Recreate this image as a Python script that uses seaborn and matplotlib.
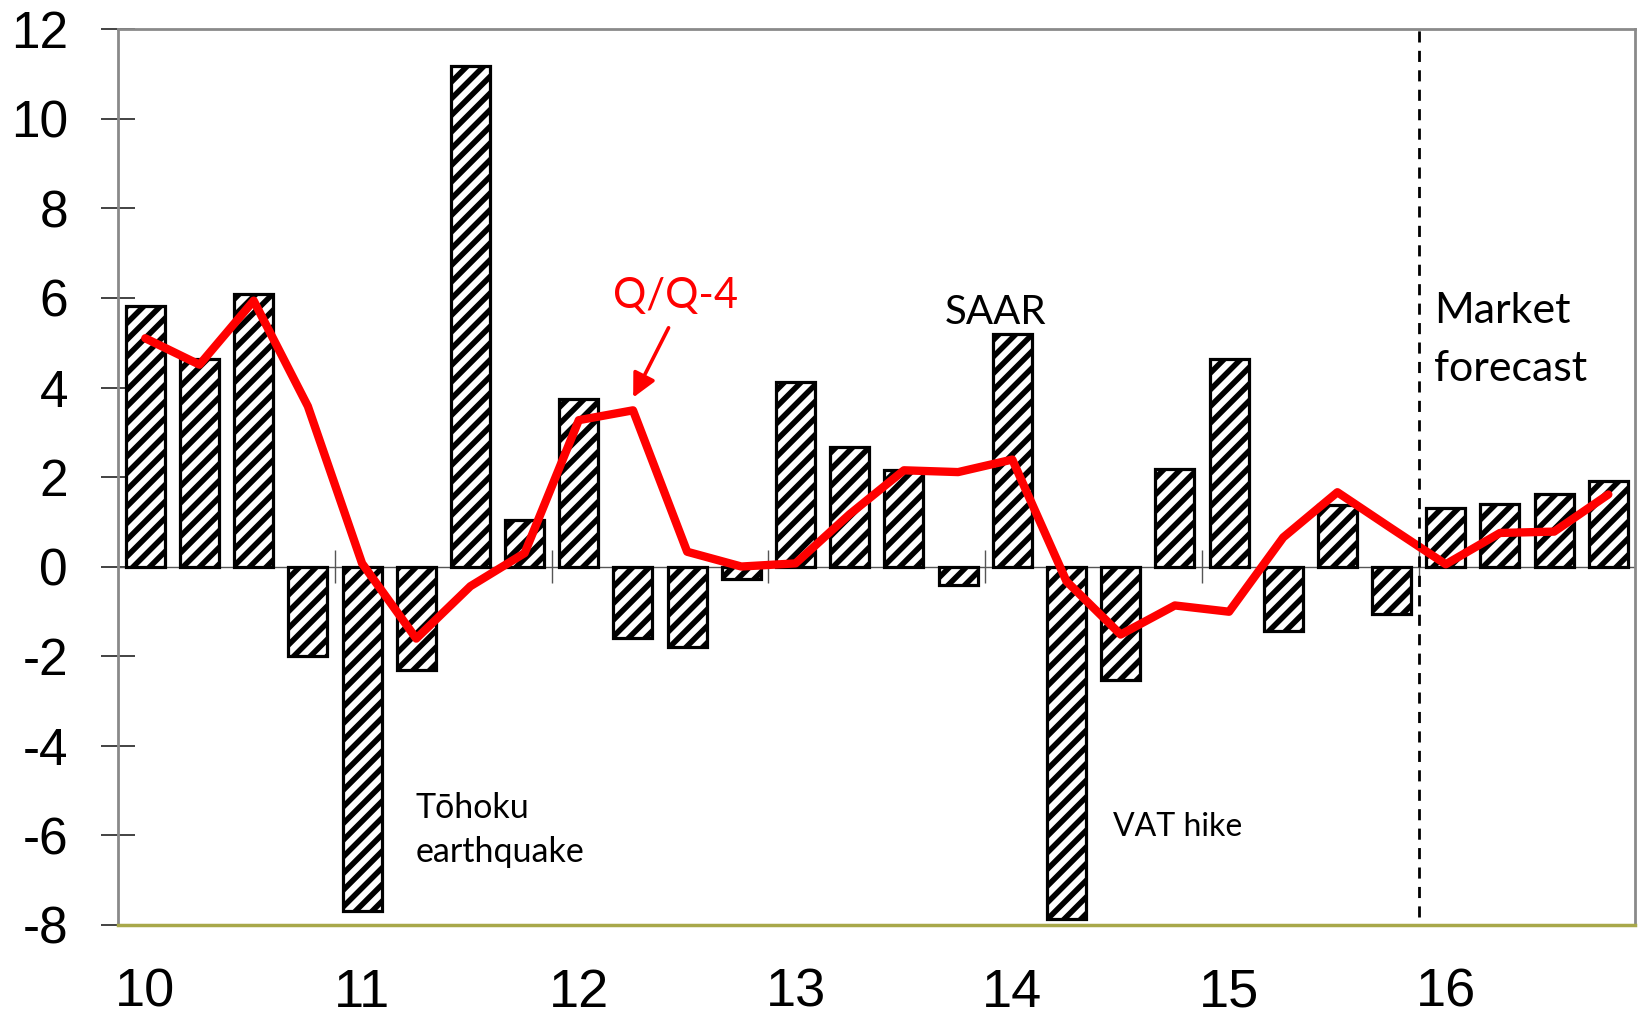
import numpy as np
import pandas as pd
import matplotlib
matplotlib.use("Agg")
import matplotlib.pyplot as plt
import seaborn as sns

# Japan real GDP growth, quarterly 2010Q1-2016Q4 (%)
years = ["10", "11", "12", "13", "14", "15", "16"]
quarters = [f"{y}Q{q}" for y in years for q in range(1, 5)]
saar = [5.82, 4.63, 6.08, -1.99,
        -7.70, -2.32, 11.18, 1.03,
        3.74, -1.59, -1.80, -0.28,
        4.12, 2.67, 2.15, -0.42,
        5.19, -7.88, -2.53, 2.18,
        4.63, -1.43, 1.38, -1.05,
        1.31, 1.40, 1.61, 1.92]
yoy = [5.10, 4.51, 5.94, 3.58,
       0.07, -1.61, -0.44, 0.30,
       3.27, 3.49, 0.33, 0.00,
       0.07, 1.17, 2.15, 2.11,
       2.39, -0.33, -1.52, -0.87,
       -1.01, 0.65, 1.66, 0.85,
       0.05, 0.75, 0.78, 1.61]
forecast_start = "16Q1"

sns.set_theme(style="white")
plt.rcParams["font.family"] = ["Liberation Sans", "DejaVu Sans"]
plt.rcParams["axes.unicode_minus"] = False
plt.rcParams["hatch.linewidth"] = 4.0
plt.rcParams["text.color"] = "black"
plt.rcParams["xtick.color"] = "black"
plt.rcParams["ytick.color"] = "black"
plt.rcParams["xtick.labelcolor"] = "black"
plt.rcParams["ytick.labelcolor"] = "black"

df = pd.DataFrame({"quarter": quarters, "saar": saar, "yoy": yoy})
pos = np.arange(len(quarters))

fig = plt.figure(figsize=(16.42, 10.16), dpi=100)
ax = fig.add_axes([0.072, 0.090, 0.924, 0.881])

sns.barplot(data=df, x="quarter", y="saar", color="white", edgecolor="black",
            linewidth=2.3, width=0.72, saturation=1, ax=ax, zorder=2)
for p in ax.patches:
    p.set_hatch("//")

ax.axhline(0, color="#555555", lw=1.0, zorder=1)

sns.lineplot(x=pos, y=df["yoy"], color="#ff0000", linewidth=6.0, ax=ax, zorder=3)

# year boundary ticks on the zero line
bounds = np.arange(0, len(quarters) + 1, 4) - 0.5
ax.vlines(bounds[1:-1], -0.37, 0.37, color="#555555", lw=1.0, zorder=1)

# start of the forecast period
fc = quarters.index(forecast_start) - 0.5
ax.axvline(fc, color="black", lw=2.0, ls=(0, (4, 3)), ymin=0.008, ymax=1, zorder=4)

ax.set_xlim(-0.5, len(quarters) - 0.5)
ax.set_ylim(-8, 12)
ax.set_yticks(np.arange(-8, 13, 2))
ax.set_yticklabels([str(v) for v in range(-8, 13, 2)])
ax.set_xticks(pos[::4])
ax.set_xticklabels(years)
ax.set_xlabel("")
ax.set_ylabel("")
ax.tick_params(axis="y", direction="inout", length=24.5, width=1.2, color="#222222",
               labelsize=37, pad=24, left=True)
ax.tick_params(axis="x", length=0, labelsize=39, pad=31)

for s in ["left", "top", "right"]:
    ax.spines[s].set_color("#8a8a8a")
    ax.spines[s].set_linewidth(2.0)
ax.spines["bottom"].set_color("#a8a84a")
ax.spines["bottom"].set_linewidth(2.5)

ann_font = ["Lato", "DejaVu Sans"]
ax.text(8.63, 6.04, "Q/Q-4", color="#ff0000", fontsize=30, family=ann_font,
        va="center", ha="left")
ax.annotate("", xy=(8.98, 3.72), xytext=(9.68, 5.39),
            arrowprops=dict(arrowstyle="-|>,head_length=1.2,head_width=0.6",
                            color="#ff0000", lw=2.6))
ax.text(14.76, 5.68, "SAAR", color="black", fontsize=29, family=ann_font,
        va="center", ha="left")
ax.text(23.79, 5.72, "Market", color="black", fontsize=31,
        family=ann_font, va="center", ha="left")
ax.text(23.79, 4.42, "forecast", color="black", fontsize=31,
        family=ann_font, va="center", ha="left")
ax.text(4.98, -5.40, "Tōhoku", color="black", fontsize=24.5,
        family=ann_font, va="center", ha="left")
ax.text(4.98, -6.38, "earthquake", color="black", fontsize=24.5,
        family=ann_font, va="center", ha="left")
ax.text(17.85, -5.82, "VAT hike", color="black", fontsize=23, family=ann_font,
        va="center", ha="left")

fig.savefig("out.png", dpi=100)
